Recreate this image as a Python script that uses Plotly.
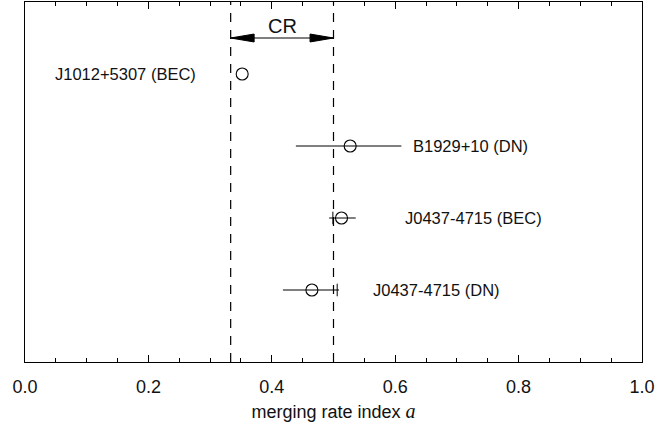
import plotly.graph_objects as go

# Data
names = ["J1012+5307 (BEC)", "B1929+10 (DN)", "J0437-4715 (BEC)", "J0437-4715 (DN)"]
a_vals = [0.352, 0.527, 0.513, 0.465]
err_plus = [0.0, 0.083, 0.023, 0.044]
err_minus = [0.0, 0.088, 0.020, 0.047]
rows = [4, 3, 2, 1]
label_side = ["left", "right", "right", "right"]
label_x = [0.281, 0.625, 0.612, 0.560]
cap_x = [None, None, 0.499, 0.506]
cr_bounds = [1 / 3, 0.5]
cr_arrow_y = 4.5
x_ticks = [0.0, 0.2, 0.4, 0.6, 0.8, 1.0]

FONT = "Liberation Sans, Arial, Helvetica, sans-serif"

fig = go.Figure()
fig.add_trace(go.Scatter(
    x=a_vals, y=rows, mode="markers",
    marker=dict(symbol="circle-open", size=12, color="black", line=dict(width=1.1, color="black")),
    error_x=dict(type="data", symmetric=False, array=err_plus, arrayminus=err_minus,
                 width=0, thickness=1, color="black"),
    showlegend=False, hoverinfo="skip"))

cx = [c for c in cap_x if c is not None]
cy = [r for c, r in zip(cap_x, rows) if c is not None]
fig.add_trace(go.Scatter(
    x=cx, y=cy, mode="markers",
    marker=dict(symbol="line-ns", size=9, line=dict(width=1, color="black")),
    showlegend=False, hoverinfo="skip"))

for n, y, side, lx in zip(names, rows, label_side, label_x):
    fig.add_annotation(x=lx, y=y, text=n, showarrow=False,
                       xanchor="right" if side == "left" else "left",
                       font=dict(size=16.5, color="#111", family=FONT))

for b in cr_bounds:
    fig.add_shape(type="line", x0=b, x1=b, xref="x", y0=0, y1=1, yref="paper",
                  line=dict(color="black", width=1.2, dash="9px,8px"))

# CR double arrow: shaft plus two slender filled heads
head_len = 0.038   # in x data units
head_half = 0.055  # in y data units
x0, x1 = cr_bounds
fig.add_shape(type="line", x0=x0, x1=x1, y0=cr_arrow_y, y1=cr_arrow_y, xref="x", yref="y",
              line=dict(color="black", width=1))
for tip, sgn in ((x0, 1), (x1, -1)):
    base = tip + sgn * head_len
    fig.add_shape(type="path", xref="x", yref="y",
                  path=f"M {tip},{cr_arrow_y} L {base},{cr_arrow_y + head_half} "
                       f"L {base},{cr_arrow_y - head_half} Z",
                  fillcolor="black", line=dict(color="black", width=1))
fig.add_annotation(x=sum(cr_bounds) / 2, y=4.66, text="CR", showarrow=False,
                   font=dict(size=20, color="#111", family=FONT))

fig.update_layout(
    width=672, height=430,
    margin=dict(l=25, r=30, t=2, b=68),
    paper_bgcolor="white", plot_bgcolor="white",
    font=dict(family=FONT, color="#111"),
    xaxis=dict(range=[0, 1], tickvals=x_ticks, ticktext=[f"{v:.1f}" for v in x_ticks],
               automargin=False,
               ticks="inside", ticklen=7, tickwidth=1, tickcolor="black",
               ticklabelstandoff=8,
               minor=dict(dtick=0.05, ticks="inside", ticklen=4, tickcolor="black", tickwidth=1),
               showline=True, linecolor="black", linewidth=1.2, mirror="allticks",
               showgrid=False, zeroline=False,
               tickfont=dict(size=18, family=FONT),
               title=dict(text="merging rate index <i><span style=\"font-family:'Liberation Serif',serif;font-size:20px\">a</span></i>",
                          font=dict(size=18, family=FONT), standoff=9)),
    yaxis=dict(range=[0, 5], showticklabels=False, ticks="", showgrid=False, zeroline=False,
               automargin=False,
               showline=True, linecolor="black", linewidth=1.2, mirror=True),
)

fig.write_html("out.html", config={"displayModeBar": False},
               post_script="document.body.style.margin='0';document.body.style.overflow='hidden';")
